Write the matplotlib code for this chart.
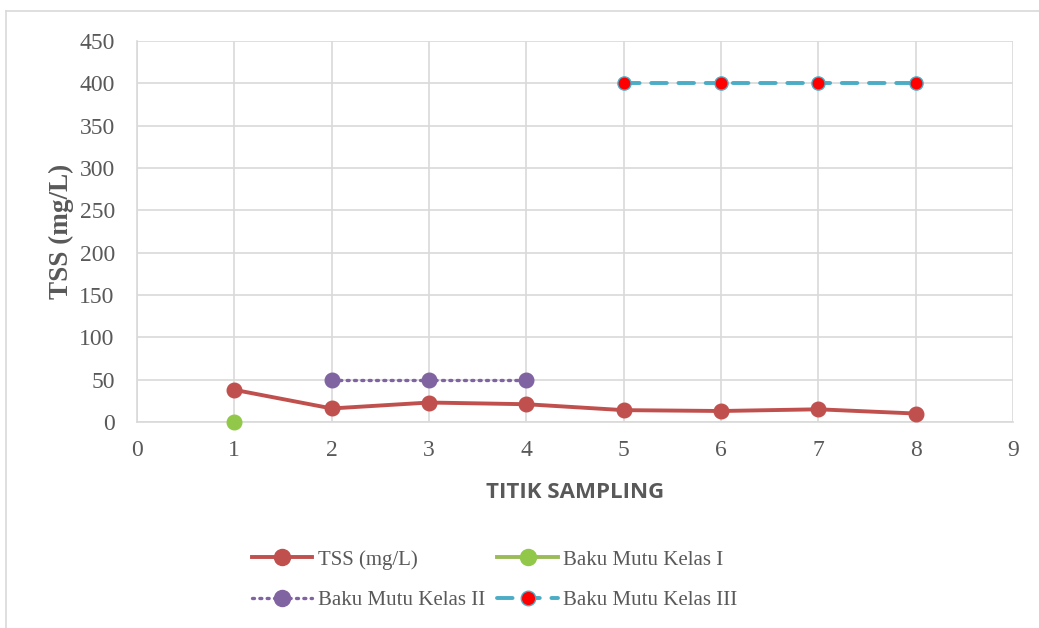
import matplotlib
matplotlib.use("Agg")
import matplotlib.pyplot as plt
from matplotlib.lines import Line2D

# Sampling points and measured TSS
titik = [1, 2, 3, 4, 5, 6, 7, 8]
tss = [38, 16, 23, 21, 14, 13, 15, 10]

# Quality standards (Baku Mutu) per class
kelas1_x = [1]
kelas1_y = [0]
kelas2_x = [2, 3, 4]
kelas2_y = [50, 50, 50]
kelas3_x = [5, 6, 7, 8]
kelas3_y = [400, 400, 400, 400]

x_ticks = list(range(0, 10))
y_ticks = list(range(0, 451, 50))

serif = "Liberation Serif"
grid_c = "#d9d9d9"
text_c = "#595959"

fig = plt.figure(figsize=(10.39, 6.28), dpi=100)
ax = fig.add_axes([137 / 1039, 1 - 422 / 628, (1013 - 137) / 1039, (422 - 41) / 628])

ax.plot(titik, tss, color="#C0504D", lw=2.8, marker="o", ms=10.5,
        markerfacecolor="#C0504D", markeredgecolor="#C0504D", zorder=3,
        label="TSS (mg/L)")
ax.plot(kelas1_x, kelas1_y, color="#9BBB59", lw=2.8, marker="o", ms=10.5,
        markerfacecolor="#92C84A", markeredgecolor="#92C84A", zorder=4,
        clip_on=False, label="Baku Mutu Kelas I")
ax.plot(kelas2_x, kelas2_y, color="#8064A2", lw=2.4, ls=(0, (0.6, 1.6)),
        dash_capstyle="round", marker="o", ms=10.5,
        markerfacecolor="#8064A2", markeredgecolor="#8064A2", zorder=3,
        label="Baku Mutu Kelas II")
ax.plot(kelas3_x, kelas3_y, color="#4BACC6", lw=2.8, ls=(0, (4, 3)),
        dash_capstyle="round", marker="o", ms=9.5,
        markerfacecolor="#FF0000", markeredgecolor="#4BACC6", markeredgewidth=1,
        zorder=3, label="Baku Mutu Kelas III")

ax.set_xlim(0, 9)
ax.set_ylim(0, 450)
ax.set_xticks(x_ticks)
ax.set_yticks(y_ticks)
ax.grid(True, color=grid_c, lw=1.2)
ax.set_axisbelow(True)
ax.tick_params(length=0, labelsize=17, labelcolor=text_c)
ax.tick_params(axis="y", pad=16)
ax.tick_params(axis="x", pad=13)
for lab in ax.get_xticklabels() + ax.get_yticklabels():
    lab.set_family(serif)
for s in ["top", "right"]:
    ax.spines[s].set_visible(False)
for s in ["left", "bottom"]:
    ax.spines[s].set_color(grid_c)
    ax.spines[s].set_linewidth(1.2)

ax.set_xlabel("TITIK SAMPLING", fontsize=16, fontweight="bold",
              family="Open Sans", color=text_c, labelpad=15)
ax.set_ylabel("TSS (mg/L)", fontsize=19.5, fontweight="bold",
              family=serif, color=text_c, labelpad=4)

handles, labels = ax.get_legend_handles_labels()
order = [0, 2, 1, 3]
leg = fig.legend([handles[i] for i in order], [labels[i] for i in order],
                 ncol=2, loc="center", bbox_to_anchor=(0.476, 1 - 580 / 628),
                 frameon=False, handlelength=2.9, columnspacing=0.6,
                 labelspacing=1.0, handletextpad=0.25, markerscale=1.1,
                 prop={"family": serif, "size": 15})
for t in leg.get_texts():
    t.set_color(text_c)

# Outer chart frame
fig.add_artist(Line2D([6 / 1039, 1], [1 - 11 / 628, 1 - 11 / 628],
                      transform=fig.transFigure, color=grid_c, lw=1.2))
fig.add_artist(Line2D([6 / 1039, 6 / 1039], [0, 1 - 11 / 628],
                      transform=fig.transFigure, color=grid_c, lw=1.2))

fig.savefig("out.png", dpi=100)
